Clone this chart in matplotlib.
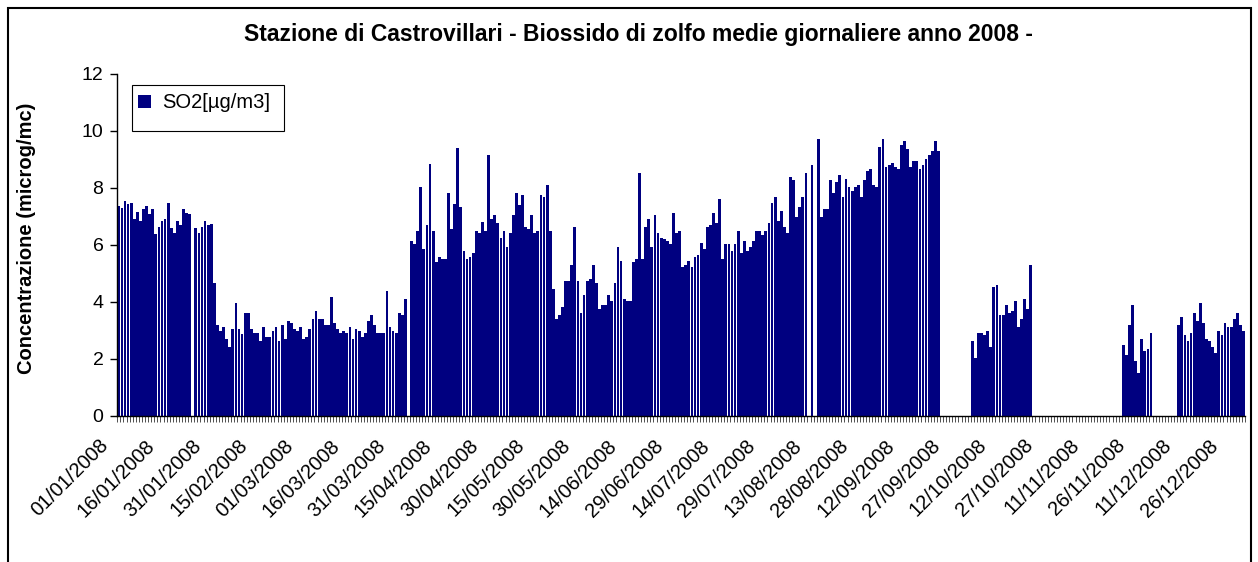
import matplotlib.pyplot as plt
from matplotlib.patches import Rectangle
import numpy as np
import pandas as pd

plt.rcParams['font.family'] = ['Liberation Sans', 'DejaVu Sans']

W, H = 1258, 562

# daily means, one list per month (None = no data)
jan = [7.37, 7.28, 7.54, 7.42, 7.48, 6.92, 7.14, 6.85, 7.26, 7.35, 7.07, 7.27, 6.38, 6.64, 6.84, 6.91,
       7.48, 6.58, 6.43, 6.85, 6.71, 7.27, 7.13, 7.10, None, 6.58, 6.43, 6.64, 6.85, 6.69, 6.72]
feb = [4.67, 3.18, 2.99, 3.13, 2.70, 2.42, 3.06, 3.97, 3.06, 2.86, 3.59, 3.59, 3.06, 2.92, 2.92, 2.62,
       3.13, 2.78, 2.78, 2.99, 3.13, 2.62, 3.18, 2.70, 3.33, 3.27, 3.06, 2.99, 3.13]
mar = [2.70, 2.78, 3.06, 3.41, 3.69, 3.41, 3.41, 3.18, 3.18, 4.18, 3.27, 3.06, 2.92, 2.99, 2.92, 3.13,
       2.70, 3.06, 2.99, 2.78, 2.92, 3.33, 3.55, 3.18, 2.92, 2.92, 2.92, 4.39, 3.13, 2.99, 2.92]
apr = [3.59, 3.55, 4.11, None, 6.14, 6.02, 6.50, 8.04, 5.85, 6.71, 8.83, 6.50, 5.39, 5.57, 5.50, 5.50,
       7.83, 6.56, 7.42, 9.39, 7.34, 5.80, 5.50, 5.59, 5.73, 6.50, 6.43, 6.79, 6.50, 9.17]
may = [6.92, 7.06, 6.78, 6.23, 6.50, 5.94, 6.43, 7.06, 7.83, 7.41, 7.76, 6.64, 6.56, 7.06, 6.43, 6.50,
       7.76, 7.69, 8.11, 6.50, 4.46, 3.41, 3.54, 3.83, 4.73, 4.73, 5.29, 6.64, 4.73, 3.59, 4.25]
jun = [4.73, 4.81, 5.29, 4.67, 3.76, 3.90, 3.90, 4.25, 4.04, 4.67, 5.94, 5.44, 4.11, 4.04, 4.04, 5.39,
       5.50, 8.54, 5.50, 6.64, 6.92, 5.94, 7.06, 6.43, 6.23, 6.21, 6.14, 6.02, 7.13, 6.43]
jul = [6.50, 5.23, 5.30, 5.44, 5.23, 5.59, 5.66, 6.08, 5.85, 6.64, 6.71, 7.13, 6.78, 7.62, 5.50, 6.02,
       6.02, 5.80, 6.02, 6.50, 5.73, 6.14, 5.80, 5.94, 6.14, 6.50, 6.50, 6.36, 6.50, 6.78, 7.48]
aug = [7.69, 6.85, 7.20, 6.64, 6.43, 8.40, 8.26, 6.99, 7.34, 7.69, 8.54, None, 8.82, None, 9.71, 6.99,
       7.26, 7.26, 8.26, 7.83, 8.19, 8.47, 7.69, 8.33, 8.04, 7.90, 8.04, 8.11, 7.69, 8.26, 8.61]
sep = [8.68, 8.11, 8.04, 9.45, 9.73, 8.75, 8.82, 8.89, 8.75, 8.68, 9.52, 9.66, 9.38, 8.75, 8.96, 8.96,
       8.68, 8.82, 9.03, 9.17, 9.31, 9.66, 9.31] + [None] * 7
oct_ = [None] * 3 + [2.63, 2.01, 2.92, 2.92, 2.85, 2.99, 2.42, 4.53, 4.60, 3.55, 3.55, 3.90, 3.62, 3.69,
                     4.04, 3.13, 3.41, 4.11, 3.76, 5.30] + [None] * 8
nov = [None] * 21 + [2.49, 2.14, 3.20, 3.90, 1.93, 1.51, 2.70, 2.28, 2.35]
dec = [2.92] + [None] * 8 + [3.20, 3.48, 2.85, 2.63, 2.92, 3.62, 3.34, 3.97, 3.27, 2.70, 2.63, 2.42,
                             2.21, 2.99, 2.85, 3.27, 3.13, 3.13, 3.41, 3.62, 3.20, 2.99]

days = pd.date_range('2008-01-01', '2008-12-31', freq='D')
so2 = [v for m in [jan, feb, mar, apr, may, jun, jul, aug, sep, oct_, nov, dec] for v in m]
df = pd.DataFrame({'day': days, 'so2': pd.Series(so2, dtype=float)})

fig = plt.figure(figsize=(W / 100, H / 100), dpi=100)
ax = fig.add_axes([117.3 / W, 1 - 415.7 / H, (1245 - 117.3) / W, (415.7 - 74) / H])

ok = df['so2'].notna()
xpos = np.arange(len(df))
ax.bar(xpos[ok] + 0.5, df['so2'][ok], width=0.9, color='#000080', linewidth=0)

ax.set_xlim(0, len(df))
ax.set_ylim(0, 12)
ax.set_yticks(range(0, 13, 2))
ax.tick_params(axis='y', labelsize=14, length=5, width=1, pad=5)
ax.set_xticks(np.arange(0, len(df) + 1))
ax.set_xticklabels([])
ax.tick_params(axis='x', length=4, width=0.6, color='#333333')
for s in ['top', 'right']:
    ax.spines[s].set_visible(False)
ax.spines['left'].set_linewidth(1)
ax.spines['bottom'].set_linewidth(1)

# rotated date labels every 15 days
for i in range(0, len(df), 15):
    ax.text(i - 6.0, -0.059, df['day'][i].strftime('%d/%m/%Y'),
            transform=ax.get_xaxis_transform(), rotation=45, rotation_mode='anchor',
            ha='right', va='top', fontsize=14.5)

fig.text(638 / W, 1 - 35 / H,
         'Stazione di Castrovillari - Biossido di zolfo medie giornaliere anno 2008 -',
         ha='center', va='center', fontsize=16.5, fontweight='bold')
fig.text(27 / W, 1 - 238 / H, 'Concentrazione (microg/mc)', rotation=90,
         ha='center', va='center', fontsize=14.5, fontweight='bold')

# legend box
fig.patches.append(Rectangle((132 / W, 1 - 131 / H), 152 / W, 46 / H, transform=fig.transFigure,
                             fill=False, edgecolor='black', linewidth=0.8))
fig.patches.append(Rectangle((138 / W, 1 - 108 / H), 13 / W, 13 / H, transform=fig.transFigure,
                             facecolor='#000080', edgecolor='none'))
fig.text(162 / W, 1 - 102 / H, 'SO2[µg/m3]', ha='left', va='center', fontsize=14.5)

# chart area border
fig.patches.append(Rectangle((8 / W, -0.05), 1243 / W, 1.05 - 8 / H, transform=fig.transFigure,
                             fill=False, edgecolor='black', linewidth=1.5))

fig.savefig('out.png', dpi=100)
